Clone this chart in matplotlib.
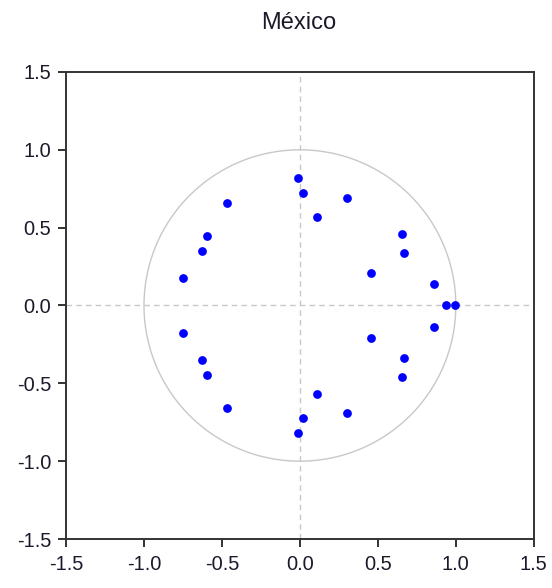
import numpy as np
import matplotlib
matplotlib.use("Agg")
import matplotlib.pyplot as plt

plt.rcParams['font.family'] = ['Liberation Sans', 'DejaVu Sans']

title = "México"

# Inverse roots of the AR characteristic polynomial (upper half-plane + real roots)
root_re = [-0.015, 0.019, 0.302, 0.109, -0.467, -0.596, -0.630, -0.750,
           0.656, 0.667, 0.459, 0.862]
root_im = [0.821, 0.723, 0.689, 0.568, 0.656, 0.446, 0.350, 0.175,
           0.459, 0.337, 0.207, 0.140]
real_roots = [0.939, 0.997]

ticks = [-1.5, -1.0, -0.5, 0.0, 0.5, 1.0, 1.5]
tick_labels = ["-1.5", "-1.0", "-0.5", "0.0", "0.5", "1.0", "1.5"]

re = np.array(root_re)
im = np.array(root_im)
xs = np.concatenate([re, re, real_roots])
ys = np.concatenate([im, -im, np.zeros(len(real_roots))])

fig = plt.figure(figsize=(5.52, 5.88), dpi=100)
ax = fig.add_axes([0.1196, 0.0833, 0.8474, 0.7943])

# unit circle
t = np.linspace(0, 2 * np.pi, 400)
ax.plot(np.cos(t), np.sin(t), color="#c8c8c8", lw=1.0, zorder=1)
ax.axhline(0, color="#c8c8c8", lw=1.0, ls=(0, (4, 3)), zorder=1)
ax.axvline(0, color="#c8c8c8", lw=1.0, ls=(0, (4, 3)), zorder=1)

ax.plot(xs, ys, ls="none", marker="o", ms=6.3, color="#0000ff",
        markeredgewidth=0, zorder=3)

ax.set_xlim(-1.5, 1.5)
ax.set_ylim(-1.5, 1.5)
ax.set_xticks(ticks)
ax.set_xticklabels(tick_labels)
ax.set_yticks(ticks)
ax.set_yticklabels(tick_labels)

for s in ax.spines.values():
    s.set_color("#333333")
    s.set_linewidth(1.4)
ax.tick_params(direction="out", length=5.5, width=1.4, color="#333333",
               labelsize=14.4, labelcolor="#1a1a2a", pad=5)
ax.tick_params(axis="x", pad=6)

fig.text(0.541, 0.951, title, ha="center", va="baseline", fontsize=17,
         color="#1a1a2a")

fig.savefig("out.png", dpi=100)
